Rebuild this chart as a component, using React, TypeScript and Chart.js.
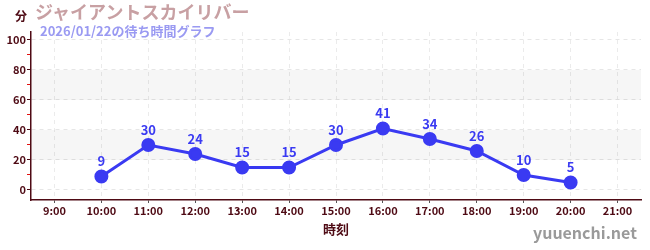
import React, { useEffect, useRef } from "react";
import { Chart, registerables } from "chart.js";

Chart.register(...registerables);

const hours = ["9:00", "10:00", "11:00", "12:00", "13:00", "14:00", "15:00", "16:00", "17:00", "18:00", "19:00", "20:00", "21:00"];
const waitMinutes: (number | null)[] = [null, 9, 30, 24, 15, 15, 30, 41, 34, 26, 10, 5, null];
const bandRanges: [number, number][] = [[20, 40], [60, 80]];
const titleText = "ジャイアントスカイリバー";
const subtitleText = "2026/01/22の待ち時間グラフ";
const yUnitText = "分";
const xTitleText = "時刻";
const watermarkText = "yuuenchi.net";

const FONT = "'Noto Sans CJK JP', 'Noto Sans', sans-serif";
const DARK = "#4e0a14";
const BLUE = "#3a3af2";

const bandsPlugin = {
  id: "bands",
  beforeDatasetsDraw(chart: any) {
    const { ctx, chartArea, scales } = chart;
    const y = scales.y;
    ctx.save();
    ctx.fillStyle = "rgba(0,0,0,0.035)";
    for (const [a, b] of bandRanges) {
      const top = y.getPixelForValue(b);
      const bot = y.getPixelForValue(a);
      ctx.fillRect(chartArea.left, top, chartArea.right - chartArea.left, bot - top);
    }
    ctx.restore();
  },
};

const labelsPlugin = {
  id: "pointLabels",
  afterDatasetsDraw(chart: any) {
    const { ctx } = chart;
    const meta = chart.getDatasetMeta(0);
    const data = chart.data.datasets[0].data;
    ctx.save();
    ctx.fillStyle = BLUE;
    ctx.font = `bold 13px ${FONT}`;
    ctx.textAlign = "center";
    ctx.textBaseline = "middle";
    meta.data.forEach((pt: any, i: number) => {
      const v = data[i];
      if (v === null || v === undefined) return;
      ctx.fillText(String(v), pt.x, pt.y - 15);
    });
    ctx.restore();
  },
};

export default function App() {
  const ref = useRef<HTMLCanvasElement>(null);
  useEffect(() => {
    if (!ref.current) return;
    const chart = new Chart(ref.current, {
      type: "line",
      data: {
        labels: hours,
        datasets: [
          {
            data: waitMinutes,
            borderColor: BLUE,
            backgroundColor: BLUE,
            borderWidth: 3,
            pointRadius: 5.5,
            pointHoverRadius: 5.5,
            pointBackgroundColor: BLUE,
            pointBorderColor: BLUE,
            tension: 0,
            spanGaps: false,
          },
        ],
      },
      options: {
        responsive: false,
        animation: false,
        devicePixelRatio: 1,
        layout: { padding: { left: 0, right: 9, top: 32, bottom: 0 } },
        plugins: {
          legend: { display: false },
          tooltip: { enabled: false },
          title: { display: false },
        },
        scales: {
          x: {
            offset: true,
            grid: {
              offset: false,
              color: "#ebebeb",
              tickColor: "#555",
              tickLength: 3,
            },
            border: { color: DARK, width: 1.5, dash: [4, 4] },
            ticks: {
              color: DARK,
              font: { family: FONT, size: 11, weight: "bold" },
              padding: 1,
              maxRotation: 0,
              autoSkip: false,
            },
            title: {
              display: true,
              text: xTitleText,
              color: DARK,
              font: { family: FONT, size: 13, weight: "bold" },
              padding: { top: 0, bottom: 13 },
            },
            afterFit(scale: any) {
              scale.height = 50;
            },
          },
          y: {
            min: -6.67,
            max: 105.33,
            grid: {
              color: (c: any) => (c.tick && c.tick.value % 20 === 0 ? "#e6e6e6" : "transparent"),
              tickColor: (c: any) => (c.tick && c.tick.value % 20 === 0 ? DARK : "#e01010"),
              tickLength: 4,
            },
            border: { color: DARK, width: 1.5, dash: [4, 4] },
            ticks: {
              stepSize: 10,
              includeBounds: false,
              color: DARK,
              font: { family: FONT, size: 11, weight: "bold" },
              padding: 1,
              callback: (v: any) => (Number(v) % 20 === 0 ? String(v) : ""),
            },
            afterFit(scale: any) {
              scale.width = 31;
            },
          },
        },
      },
      plugins: [bandsPlugin, labelsPlugin],
    } as any);
    return () => chart.destroy();
  }, []);

  const abs = (x: number, y: number, extra: React.CSSProperties): React.CSSProperties => ({
    position: "absolute",
    left: x,
    top: y,
    whiteSpace: "nowrap",
    lineHeight: 1,
    fontFamily: FONT,
    fontWeight: "bold",
    ...extra,
  });

  return (
    <div style={{ position: "absolute", left: 0, top: 0, width: 650, height: 250, background: "#fff" }}>
      <canvas ref={ref} width={650} height={250} style={{ display: "block", width: 650, height: 250 }} />
      <div style={abs(15, 10, { fontSize: 12, color: DARK })}>{yUnitText}</div>
      <div style={abs(35, 2, { fontSize: 18, color: "#c8a0a3" })}>{titleText}</div>
      <div style={abs(40, 24, { fontSize: 13, color: "#9a9af2" })}>{subtitleText}</div>
      <div style={abs(533, 224, { fontSize: 16, color: "#9a9a9a" })}>{watermarkText}</div>
    </div>
  );
}
